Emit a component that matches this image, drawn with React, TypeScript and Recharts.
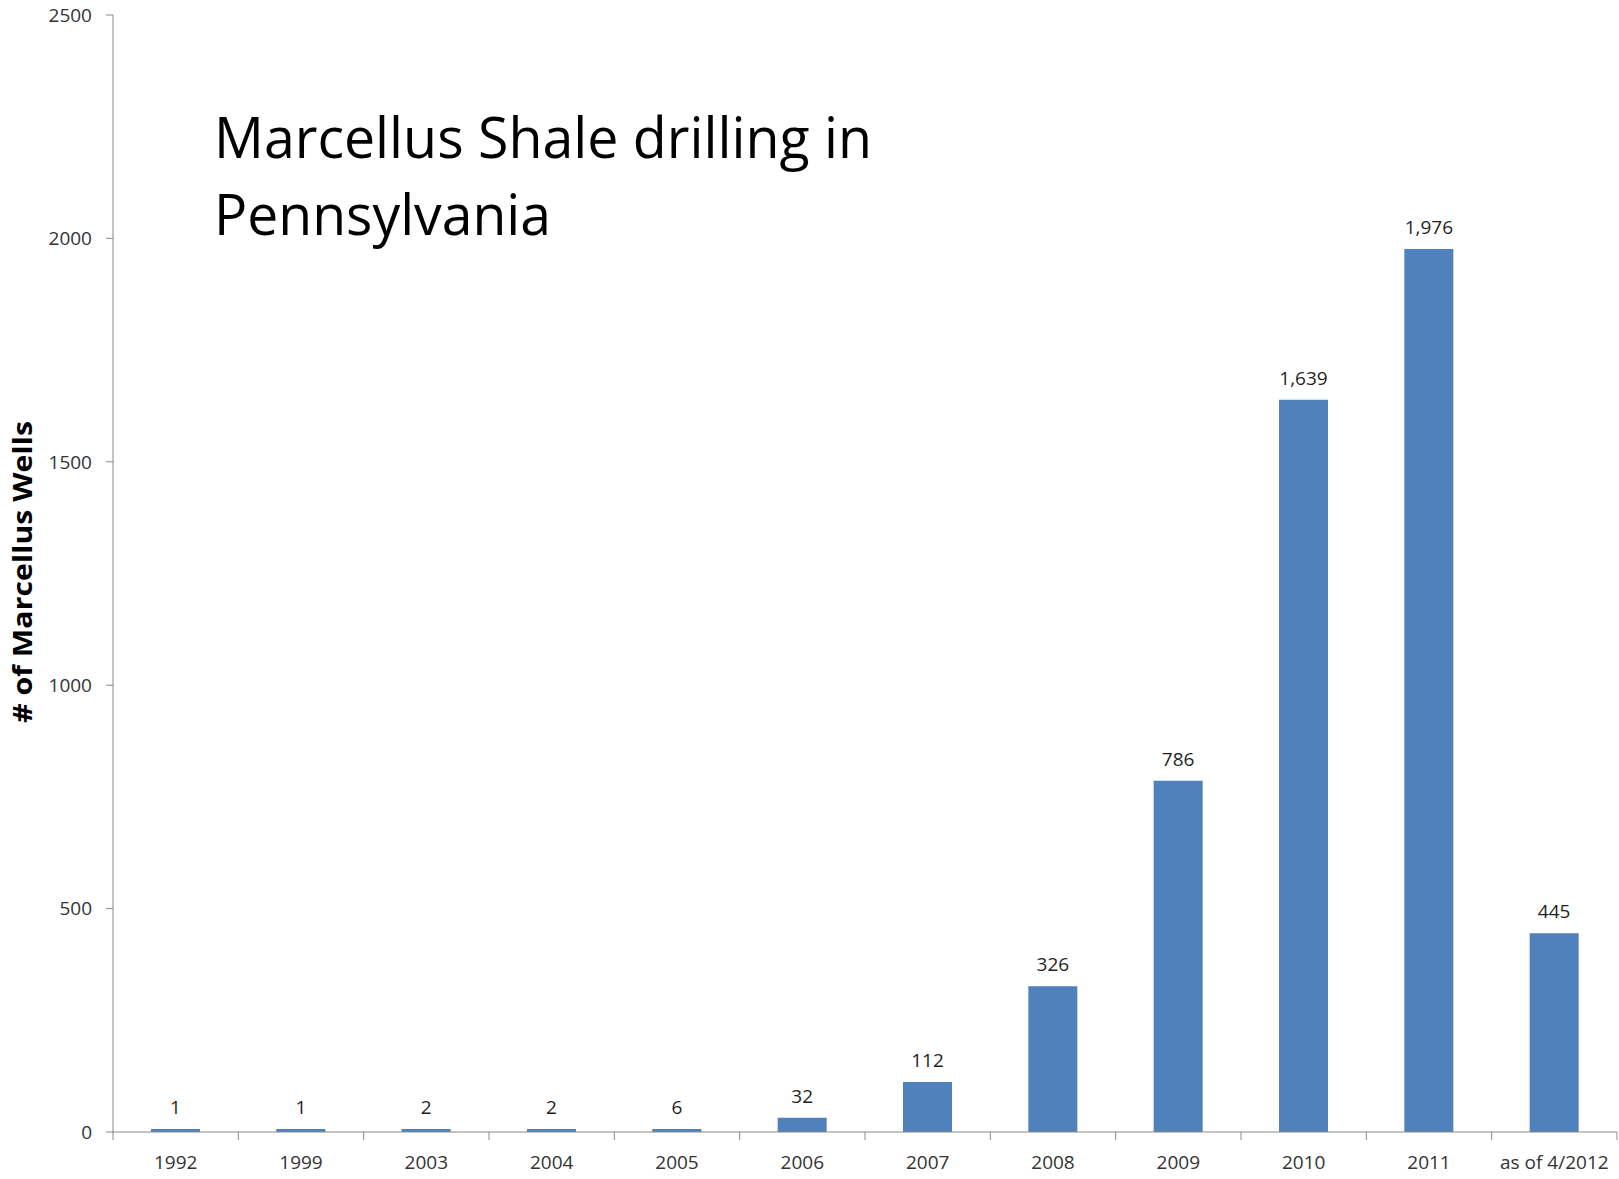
import React from 'react';
import { Bar, BarChart, LabelList, XAxis, YAxis } from 'recharts';

const years = ['1992', '1999', '2003', '2004', '2005', '2006', '2007', '2008', '2009', '2010', '2011', 'as of 4/2012'];
const wells = [1, 1, 2, 2, 6, 32, 112, 326, 786, 1639, 1976, 445];
const yTicks = [0, 500, 1000, 1500, 2000, 2500];

const data = years.map((year, i) => ({ year, wells: wells[i] }));

const WIDTH = 1619;
const HEIGHT = 1179;
const MARGIN = { top: 15, right: 2, left: 0, bottom: 7 };
const Y_AXIS_WIDTH = 113;
const X_AXIS_HEIGHT = 40;
const BAND = (WIDTH - Y_AXIS_WIDTH - MARGIN.right - MARGIN.left) / years.length;
const PLOT_BOTTOM = HEIGHT - MARGIN.bottom - X_AXIS_HEIGHT;

const AXIS_COLOR = '#898989';
const TEXT_COLOR = '#333333';
const FONT = '"Open Sans", sans-serif';

// Excel-style category axis: tick marks sit between categories, label in the middle
const CategoryTick = ({ x, payload, index }: any) => {
  const left = x - BAND / 2;
  const right = x + BAND / 2;
  return (
    <g>
      <line x1={left} y1={PLOT_BOTTOM} x2={left} y2={PLOT_BOTTOM + 8} stroke={AXIS_COLOR} />
      {index === years.length - 1 && (
        <line x1={right} y1={PLOT_BOTTOM} x2={right} y2={PLOT_BOTTOM + 8} stroke={AXIS_COLOR} />
      )}
      <text x={x} y={PLOT_BOTTOM + 37} textAnchor="middle" fontSize={19} fill={TEXT_COLOR} fontFamily={FONT}>
        {payload.value}
      </text>
    </g>
  );
};

const App = () => {
  return (
    <div style={{ position: 'absolute', left: 0, top: 0, width: WIDTH, height: HEIGHT, background: '#fff' }}>
      <BarChart width={WIDTH} height={HEIGHT} data={data} margin={MARGIN}>
        <XAxis
          dataKey="year"
          height={X_AXIS_HEIGHT}
          axisLine={{ stroke: AXIS_COLOR }}
          tickLine={false}
          tick={<CategoryTick />}
          interval={0}
        />
        <YAxis
          width={Y_AXIS_WIDTH}
          domain={[0, 2500]}
          ticks={yTicks}
          allowDataOverflow
          axisLine={{ stroke: AXIS_COLOR }}
          tickLine={{ stroke: AXIS_COLOR }}
          tickSize={7}
          tickMargin={14}
          tick={{ fill: TEXT_COLOR, fontSize: 19, fontFamily: FONT }}
        />
        <Bar dataKey="wells" fill="#4F81BD" barSize={49} minPointSize={3} isAnimationActive={false}>
          <LabelList
            dataKey="wells"
            position="top"
            offset={15}
            formatter={(v: any) => Number(v).toLocaleString('en-US')}
            style={{ fontSize: 19, fill: '#1f1f1f', fontFamily: FONT }}
          />
        </Bar>
      </BarChart>
      <svg
        width={WIDTH}
        height={HEIGHT}
        style={{ position: 'absolute', left: 0, top: 0, pointerEvents: 'none' }}
      >
        <text x={214} y={158} fontSize={57} fontFamily={FONT} fill="#000" textLength={658} lengthAdjust="spacingAndGlyphs">
          Marcellus Shale drilling in
        </text>
        <text x={214} y={235} fontSize={57} fontFamily={FONT} fill="#000" textLength={337} lengthAdjust="spacingAndGlyphs">
          Pennsylvania
        </text>
        <text
          x={21}
          y={572}
          transform="rotate(-90 21 572)"
          textAnchor="middle"
          dominantBaseline="central"
          fontSize={27}
          fontWeight="bold"
          fontFamily={FONT}
          fill="#000"
          textLength={302}
          lengthAdjust="spacingAndGlyphs"
        >
          # of Marcellus Wells
        </text>
      </svg>
    </div>
  );
};

export default App;
